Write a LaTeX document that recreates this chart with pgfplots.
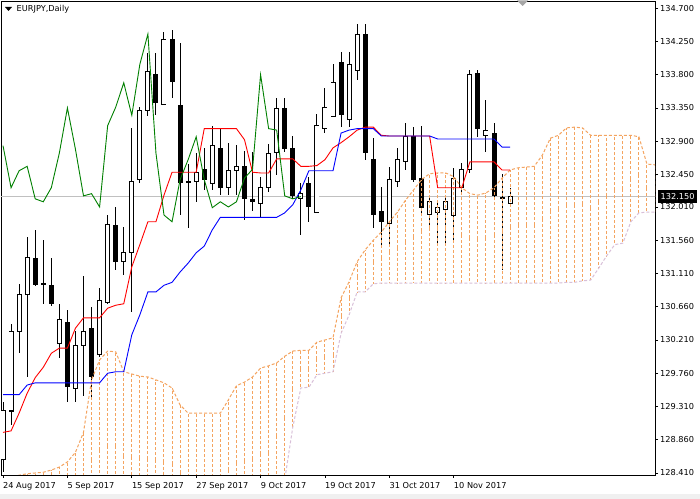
\documentclass[border=0pt]{standalone}
\usepackage{fontspec}
\setmainfont{DejaVu Sans}
\usepackage{pgfplots}
\pgfplotsset{compat=1.18}
\usepackage{pgfplotstable}

\definecolor{sandy}{RGB}{244,164,96}
\definecolor{thist}{RGB}{216,191,216}
\definecolor{chik}{RGB}{0,128,0}
\definecolor{pline}{RGB}{192,192,192}
\newcommand\lf{\fontsize{8.2bp}{9.5bp}\selectfont}

% white (bull) candles: index open high low close
\pgfplotstableread{
i o h l c
0 128.59 129.37 128.42 129.26
1 129.25 130.43 129.06 130.32
2 130.32 130.97 130.03 130.83
3 130.82 131.60 129.71 131.32
7 130.16 130.70 129.97 130.49
9 129.56 130.33 129.37 130.14
10 130.14 131.08 129.45 130.33
12 130.01 130.91 129.98 130.74
13 130.72 131.90 130.70 131.77
15 131.27 131.74 131.09 131.39
16 131.39 133.08 130.59 132.35
17 132.38 133.36 132.33 133.31
18 133.31 134.09 133.24 133.84
20 133.39 134.38 133.39 134.28
24 132.35 132.74 132.08 132.48
26 132.33 133.11 132.24 132.84
28 132.28 132.88 132.17 132.50
29 132.51 132.85 132.17 132.56
32 132.06 132.42 131.86 132.27
33 132.27 132.86 132.21 132.74
34 132.75 133.49 132.44 133.35
37 132.13 132.33 131.63 132.19
39 131.94 133.27 131.93 133.11
40 133.07 133.62 133.01 133.36
41 133.23 133.94 133.23 133.69
43 133.19 134.11 133.09 133.94
44 133.86 134.49 133.73 134.35
48 131.79 132.55 131.47 132.38
49 132.35 132.81 132.28 132.65
50 132.62 133.15 132.51 132.96
53 131.91 132.17 131.77 132.08
54 131.93 132.10 131.52 132.01
55 131.97 132.17 131.52 132.08
56 131.90 132.54 131.56 132.40
57 132.28 132.61 132.20 132.52
58 132.52 133.86 132.47 133.80
60 132.98 133.46 132.75 133.05
63 132.06 132.27 132.01 132.15
}\bull

% black (bear) candles
\pgfplotstableread{
i o h l c
4 131.32 131.70 130.94 130.95
5 130.98 131.56 130.70 130.95
6 130.95 131.32 130.67 130.70
8 130.45 130.62 129.37 129.57
11 130.37 130.66 129.43 129.71
14 131.77 132.01 131.16 131.27
19 133.81 134.09 133.25 133.42
21 134.28 134.40 133.49 133.70
22 133.39 134.23 131.90 132.33
23 132.36 132.59 131.73 132.33
25 132.52 132.81 132.24 132.38
27 132.81 133.07 132.17 132.27
30 132.56 132.77 131.83 132.12
31 132.12 132.75 131.96 132.08
35 133.35 133.49 132.75 132.79
36 132.81 132.97 132.12 132.16
38 132.33 132.42 131.81 132.01
42 133.97 134.11 133.09 133.25
45 134.35 134.49 132.65 132.74
46 132.66 132.94 131.73 131.90
47 131.96 132.28 131.45 131.81
51 132.97 133.09 132.35 132.38
52 132.40 133.11 131.90 132.00
59 133.82 133.86 132.96 133.07
61 133.01 133.15 132.13 132.16
62 132.15 132.46 131.16 132.12
}\bear

% Tenkan-sen (t) and Kijun-sen (k)
\pgfplotstableread{
i t k
0 128.96 129.47
1 128.98 129.47
2 129.22 129.47
3 129.49 129.60
4 129.70 129.63
5 129.84 129.63
6 130.03 129.63
7 130.10 129.63
8 130.10 129.63
9 130.37 129.63
10 130.51 129.63
11 130.51 129.63
12 130.51 129.63
13 130.64 129.76
14 130.68 129.78
15 130.70 129.78
16 131.20 130.28
17 131.50 130.55
18 131.81 130.86
19 131.81 130.86
20 132.17 130.95
21 132.48 130.99
22 132.48 131.13
23 132.48 131.25
24 132.48 131.39
25 133.07 131.48
26 133.07 131.70
27 133.07 131.87
28 133.07 131.87
29 133.07 131.87
30 132.92 131.87
31 132.48 131.87
32 132.47 131.87
33 132.47 131.87
34 132.66 131.87
35 132.66 131.93
36 132.66 132.04
37 132.56 132.24
38 132.56 132.50
39 132.57 132.50
40 132.65 132.50
41 132.81 132.50
42 132.88 133.01
43 132.96 133.05
44 133.05 133.07
45 133.09 133.07
46 133.09 133.07
47 132.98 132.97
48 132.97 132.97
49 132.97 132.97
50 132.97 132.97
51 132.97 132.97
52 132.97 132.97
53 132.97 132.97
54 132.27 132.93
55 132.27 132.93
56 132.27 132.93
57 132.27 132.93
58 132.62 132.93
59 132.62 132.93
60 132.62 132.93
61 132.62 132.93
62 132.51 132.82
63 132.51 132.82
}\tk

% Senkou span A (a) and span B (b)
\pgfplotstableread{
i a b
0 128.36 127.50
1 128.37 127.50
2 128.38 127.50
3 128.40 127.50
4 128.41 127.50
5 128.42 127.50
6 128.45 127.50
7 128.49 127.50
8 128.56 127.50
9 128.69 127.50
10 128.96 127.50
11 129.67 127.50
12 129.94 127.50
13 130.06 127.50
14 130.05 127.50
15 129.78 127.50
16 129.75 127.50
17 129.72 127.50
18 129.71 127.50
19 129.67 127.50
20 129.63 127.50
21 129.56 127.50
22 129.33 127.50
23 129.22 127.50
24 129.22 127.50
25 129.22 127.50
26 129.22 127.50
27 129.22 127.50
28 129.40 127.50
29 129.59 127.50
30 129.64 127.50
31 129.71 127.50
32 129.83 127.50
33 129.86 127.50
34 129.90 127.91
35 129.99 128.32
36 130.06 129.03
37 130.07 129.56
38 130.07 129.57
39 130.18 129.74
40 130.21 129.76
41 130.24 129.78
42 130.78 130.30
43 131.00 130.55
44 131.27 130.86
45 131.43 130.86
46 131.56 130.97
47 131.67 130.98
48 131.81 130.98
49 131.94 130.98
50 132.10 130.98
51 132.24 130.98
52 132.38 130.98
53 132.46 130.98
54 132.47 130.98
55 132.47 130.98
56 132.42 130.98
57 132.27 130.98
58 132.19 130.98
59 132.17 130.98
60 132.20 130.98
61 132.27 130.98
62 132.40 130.98
63 132.51 130.98
64 132.54 130.98
65 132.55 130.98
66 132.56 130.98
67 132.71 130.98
68 132.94 130.98
69 132.98 130.98
70 133.08 130.99
71 133.09 130.99
72 133.08 131.01
73 132.98 131.02
74 132.98 131.18
75 132.98 131.35
76 132.98 131.50
77 132.98 131.52
78 132.98 131.81
79 132.96 131.93
80 132.59 131.94
81 132.58 131.94
82 132.58 131.94
}\cloud

\pgfplotsset{
  vbar/.style 2 args={draw=none, mark=none, forget plot,
    error bars/.cd, y dir=both, y explicit, error mark=none,
    error bar style={draw=#1, line width=#2, solid}},
}

\begin{document}
\begin{tikzpicture}
\fill[white] (-1bp,-24bp) rectangle (699bp,475bp);
\fill[black!6] (-1bp,-24bp) rectangle (699bp,-19bp);
\begin{axis}[
  at={(0,0)}, anchor=south west,
  scale only axis, width=654bp, height=474bp,
  xmin=-0.25, xmax=81, ymin=128.383, ymax=134.797,
  axis line style={black, line width=0.9bp},
  tick style={black, line width=0.8bp},
  major tick length=3bp, tick align=outside,
  xtick pos=bottom, ytick pos=right, yticklabel pos=right,
  xtick={0,8,16,24,32,40,48,56},
  xticklabels={24 Aug 2017, 5 Sep 2017, 15 Sep 2017, 27 Sep 2017, 9 Oct 2017, 19 Oct 2017, 31 Oct 2017, 10 Nov 2017},
  ytick={128.41,128.86,129.31,129.76,130.21,130.66,131.11,131.56,132.01,132.45,132.90,133.35,133.80,134.25,134.70},
  yticklabels={128.410,128.860,129.310,129.760,130.210,130.660,131.110,131.560,132.010,132.450,132.900,133.350,133.800,134.250,134.700},
  xticklabel style={font=\lf, anchor=north west, inner sep=0pt, yshift=-4bp},
  yticklabel style={font=\lf, anchor=west, inner sep=0pt, xshift=2bp},
  /pgf/number format/assume math mode=true,
]
% current price line
\addplot[pline, line width=0.8bp, forget plot] coordinates {(-1,132.15) (82,132.15)};

% wicks
\addplot[vbar={black}{1bp}] table[x=i, y expr={(\thisrow{h}+\thisrow{l})/2}, y error expr={(\thisrow{h}-\thisrow{l})/2}] {\bull};
\addplot[vbar={black}{1bp}] table[x=i, y expr={(\thisrow{h}+\thisrow{l})/2}, y error expr={(\thisrow{h}-\thisrow{l})/2}] {\bear};
% bodies
\addplot[vbar={black}{5bp}] table[x=i, y expr={(\thisrow{o}+\thisrow{c})/2}, y error expr={max(abs(\thisrow{o}-\thisrow{c})/2,0.0068)}] {\bear};
\addplot[vbar={black}{5bp}] table[x=i, y expr={(\thisrow{o}+\thisrow{c})/2}, y error expr={abs(\thisrow{o}-\thisrow{c})/2+0.0068}] {\bull};
\addplot[vbar={white}{3.2bp}] table[x=i, y expr={(\thisrow{o}+\thisrow{c})/2}, y error expr={max(abs(\thisrow{o}-\thisrow{c})/2-0.0068,0.0001)}] {\bull};

% cloud hatching
\addplot[draw=none, mark=none, forget plot, error bars/.cd, y dir=both, y explicit, error mark=none,
  error bar style={draw=sandy, line width=1bp, dash pattern=on 3bp off 2bp}]
  table[x=i, y expr={(\thisrow{a}+\thisrow{b})/2}, y error expr={abs(\thisrow{a}-\thisrow{b})/2}] {\cloud};
% span A and span B
\addplot[sandy, line width=1bp, dash pattern=on 3bp off 2bp, forget plot] table[x=i, y=a] {\cloud};
\addplot[thist, line width=1bp, dash pattern=on 3bp off 2bp, forget plot] table[x=i, y=b] {\cloud};

% Tenkan and Kijun
\addplot[red, line width=0.9bp, forget plot] table[x=i, y=t] {\tk};
\addplot[blue, line width=0.9bp, forget plot] table[x=i, y=k] {\tk};

% Chikou span
\addplot[chik, line width=0.9bp, forget plot] coordinates {
(0,132.84)(1,132.27)(2,132.50)(3,132.56)(4,132.12)(5,132.08)(6,132.27)(7,132.74)(8,133.35)(9,132.79)
(10,132.16)(11,132.19)(12,132.01)(13,133.11)(14,133.36)(15,133.69)(16,133.25)(17,133.94)(18,134.35)(19,132.74)
(20,131.90)(21,131.81)(22,132.38)(23,132.65)(24,132.96)(25,132.38)(26,132.00)(27,132.08)(28,132.01)(29,132.08)
(30,132.40)(31,132.52)(32,133.80)(33,133.07)(34,133.05)(35,132.16)(36,132.12)(37,132.15)};

\coordinate (pr) at (axis cs:81,132.15);
\end{axis}
% current price box
\node[fill=black, text=white, font=\lf, anchor=west, inner xsep=2.5bp, inner ysep=0pt, minimum height=13bp] at ([xshift=3bp]pr) {132.150};
% title
\fill[black] (4bp,468bp) -- (11bp,468bp) -- (7.5bp,464bp) -- cycle;
\node[anchor=west, font=\lf, inner sep=0pt] at (15.5bp,466bp) {EURJPY,Daily};
% chart shift marker
\fill[black!35] (516bp,474.5bp) -- (527bp,474.5bp) -- (521.5bp,469bp) -- cycle;
\path[use as bounding box] (-1bp,-24bp) rectangle (699bp,475bp);
\end{tikzpicture}
\end{document}
